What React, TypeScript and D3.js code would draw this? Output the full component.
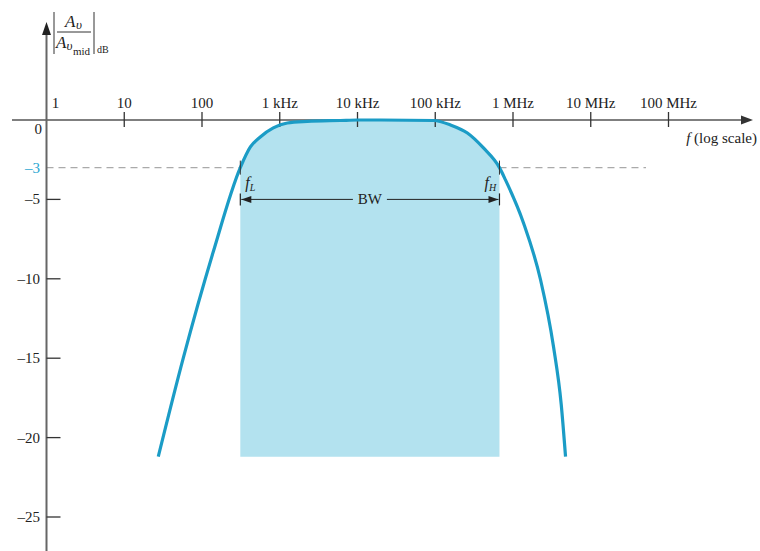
import React from "react";
import * as d3 from "d3";

// Frequency response readings (Hz, dB)
const freqs = [27.4, 57.4, 139.6, 311, 419, 562, 826, 1250, 2260, 6030, 10000, 20000, 94800, 157000, 259000, 417000, 670000, 800000, 1365000, 2260000, 3320000, 4169000, 4740000];
const gainDb = [-21.2, -15.0, -8.3, -3, -1.7, -1.07, -0.5, -0.19, -0.09, -0.03, 0, 0, -0.03, -0.31, -0.82, -1.76, -3, -3.77, -6.48, -10.06, -14.28, -17.9, -21.2];

const fL = 311;
const fH = 670000;
const cutoffDb = -3;
const shadeBottomDb = -21.2;

const xTickValues = [1, 10, 100, 1e3, 1e4, 1e5, 1e6, 1e7, 1e8];
const xTickLabels = ["1", "10", "100", "1 kHz", "10 kHz", "100 kHz", "1 MHz", "10 MHz", "100 MHz"];
const yTickValues = [0, -5, -10, -15, -20, -25];
const yTickLabels = ["0", "–5", "–10", "–15", "–20", "–25"];

const W = 760;
const H = 551;
const STROKE = "#1b9cc6";
const FILL = "#b3e2ef";
const AXIS = "#555";
const SERIF = "'Liberation Serif', 'DejaVu Serif', serif";

export default function App() {
  const x = d3.scaleLog().domain([1, 1e8]).range([46.5, 668.5]);
  const y = d3.scaleLinear().domain([0, -25]).range([120, 517]);
  const data = freqs.map((f, i) => ({ f, db: gainDb[i] }));

  const line = d3
    .line<{ f: number; db: number }>()
    .x((d) => x(d.f))
    .y((d) => y(d.db))
    .curve(d3.curveMonotoneX);
  const area = d3
    .area<{ f: number; db: number }>()
    .x((d) => x(d.f))
    .y0(y(shadeBottomDb))
    .y1((d) => y(d.db))
    .curve(d3.curveMonotoneX);

  const x0 = x(1);
  const y0 = y(0);
  const xL = x(fL);
  const xH = x(fH);
  const y3 = y(cutoffDb);
  const yBW = y(-5);
  const bwMid = (xL + xH) / 2;

  return (
    <svg width={W} height={H} style={{ position: "absolute", left: 0, top: 0, background: "#fff" }} fontFamily={SERIF}>
      <defs>
        <clipPath id="bwclip">
          <rect x={xL} y={0} width={xH - xL} height={H} />
        </clipPath>
      </defs>

      {/* shaded bandwidth */}
      <path d={area(data) || ""} fill={FILL} clipPath="url(#bwclip)" />

      {/* -3 dB dashed reference */}
      <line x1={x0} x2={xL} y1={y3} y2={y3} stroke="#aaa" strokeWidth={1.3} strokeDasharray="7,5" />
      <line x1={xH} x2={646} y1={y3} y2={y3} stroke="#aaa" strokeWidth={1.3} strokeDasharray="7,5" />

      {/* x axis */}
      <line x1={12} x2={745} y1={y0} y2={y0} stroke={AXIS} strokeWidth={1.4} />
      <path d={`M753,${y0} L741,${y0 - 4.5} L741,${y0 + 4.5} Z`} fill="#333" />
      {xTickValues.map((v, i) => (
        <g key={"xt" + i}>
          {i > 0 && <line x1={x(v)} x2={x(v)} y1={y0 - 8} y2={y0 + 7} stroke="#333" strokeWidth={1.3} />}
          <text x={i === 0 ? x(v) + 9 : x(v)} y={108} textAnchor="middle" fontSize={15} fill="#222">
            {xTickLabels[i]}
          </text>
        </g>
      ))}
      <text x={757} y={143} textAnchor="end" fontSize={15} fill="#222">
        <tspan fontStyle="italic">f</tspan> (log scale)
      </text>

      {/* y axis */}
      <line x1={x0} x2={x0} y1={32} y2={H} stroke="#666" strokeWidth={2} />
      <path d={`M${x0},22 L${x0 - 4.5},35 L${x0 + 4.5},35 Z`} fill="#222" />
      {yTickValues.map((v, i) => (
        <g key={"yt" + i}>
          {i > 0 && <line x1={x0} x2={x0 + 14} y1={y(v)} y2={y(v)} stroke="#333" strokeWidth={1.3} />}
          <text x={i === 0 ? 42 : 40} y={i === 0 ? y(v) + 14 : y(v) + 5} textAnchor="end" fontSize={15} fill="#222">
            {yTickLabels[i]}
          </text>
        </g>
      ))}
      <text x={40} y={y3 + 5} textAnchor="end" fontSize={15} fill="#29a6d1">
        –3
      </text>

      {/* y axis title |Av / Av_mid|_dB */}
      <g fill="#222" stroke="none">
        <line x1={54} x2={54} y1={12} y2={54} stroke="#333" strokeWidth={1} />
        <line x1={94} x2={94} y1={12} y2={54} stroke="#333" strokeWidth={1} />
        <line x1={57} x2={91} y1={32} y2={32} stroke="#333" strokeWidth={1} />
        <text x={65} y={27} fontSize={17} fontStyle="italic">A</text>
        <text x={76} y={29} fontSize={13} fontStyle="italic">υ</text>
        <text x={56} y={48} fontSize={17} fontStyle="italic">A</text>
        <text x={66.5} y={50} fontSize={13} fontStyle="italic">υ</text>
        <text x={73} y={55} fontSize={11}>mid</text>
        <text x={97} y={53} fontSize={10}>dB</text>
      </g>

      {/* response curve */}
      <path d={line(data) || ""} fill="none" stroke={STROKE} strokeWidth={3.2} strokeLinejoin="round" />

      {/* cutoff markers */}
      <line x1={xL} x2={xL} y1={y3 - 7} y2={y3 + 7} stroke="#333" strokeWidth={1} />
      <line x1={xH} x2={xH} y1={y3 - 7} y2={y3 + 7} stroke="#333" strokeWidth={1} />
      <text x={xL + 5} y={188} fontSize={16} fontStyle="italic" fill="#222">
        f<tspan fontSize={10} dy={3}>L</tspan>
      </text>
      <text x={xH - 15} y={188} fontSize={16} fontStyle="italic" fill="#222">
        f<tspan fontSize={10} dy={3}>H</tspan>
      </text>

      {/* BW dimension */}
      <line x1={xL} x2={xL} y1={yBW - 6} y2={yBW + 6} stroke="#222" strokeWidth={1.2} />
      <line x1={xH} x2={xH} y1={yBW - 6} y2={yBW + 6} stroke="#222" strokeWidth={1.2} />
      <line x1={xL + 1} x2={bwMid - 17} y1={yBW} y2={yBW} stroke="#222" strokeWidth={1} />
      <line x1={bwMid + 17} x2={xH - 1} y1={yBW} y2={yBW} stroke="#222" strokeWidth={1} />
      <path d={`M${xL + 1},${yBW} L${xL + 11},${yBW - 3.5} L${xL + 11},${yBW + 3.5} Z`} fill="#222" />
      <path d={`M${xH - 1},${yBW} L${xH - 11},${yBW - 3.5} L${xH - 11},${yBW + 3.5} Z`} fill="#222" />
      <text x={bwMid} y={yBW + 5} textAnchor="middle" fontSize={15} fill="#222">BW</text>
    </svg>
  );
}
